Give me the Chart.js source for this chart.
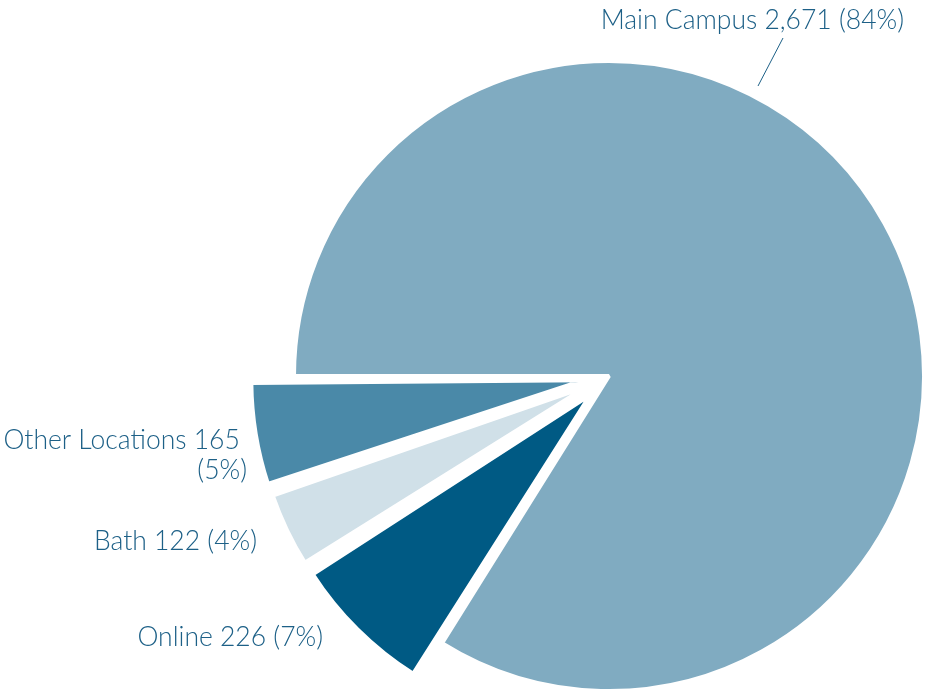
<!DOCTYPE html>
<html>
<head>
<meta charset="utf-8">
<script src="https://cdn.jsdelivr.net/npm/chart.js@4/dist/chart.umd.min.js"></script>
<style>
html,body{margin:0;padding:0;background:#fff;}
#wrap{width:933px;height:692px;position:relative;}
</style>
</head>
<body>
<div id="wrap"><canvas id="c" width="933" height="692"></canvas></div>
<script>
const categories = ["Main Campus", "Online", "Bath", "Other Locations"];
const values = [2671, 226, 122, 165];
const percents = ["84%", "7%", "4%", "5%"];
const colors = ["#80abc1", "#005a84", "#d0e0e8", "#4a89a8"];
const explodePx = [0, 42, 42, 43]; // desired visual shift of each slice

// Chart.js v4 arc translation = offset/4 * (2 - sin(circumference)); invert it
const total = values.reduce((a, b) => a + b, 0);
const offsets = values.map((v, i) => {
  const c = v / total * 2 * Math.PI;
  return explodePx[i] / (0.25 * (2 - Math.sin(Math.min(Math.PI, c))));
});

const fmt = v => v.toLocaleString("en-US");
const labelLines = [
  [categories[0] + " " + fmt(values[0]) + " (" + percents[0] + ")"],
  [categories[1] + " " + fmt(values[1]) + " (" + percents[1] + ")"],
  [categories[2] + " " + fmt(values[2]) + " (" + percents[2] + ")"],
  [categories[3] + " " + fmt(values[3]) + " ", "(" + percents[3] + ")"]
];
// label anchor positions (right edge x, first-line middle y)
const labelPos = [
  {x: 904, y: 20},
  {x: 323, y: 637},
  {x: 257, y: 541},
  {x: 247, y: 440}
];

const labelPlugin = {
  id: "sliceLabels",
  afterDatasetsDraw(chart) {
    const ctx = chart.ctx;
    ctx.save();
    ctx.font = "300 26.5px Lato, 'Open Sans', sans-serif";
    ctx.fillStyle = "#1d6087";
    ctx.textAlign = "right";
    ctx.textBaseline = "middle";
    labelLines.forEach((lines, i) => {
      const p = labelPos[i];
      lines.forEach((t, j) => ctx.fillText(t, p.x, p.y + j * 30));
    });
    // leader line for Main Campus
    ctx.strokeStyle = "#1d6087";
    ctx.lineWidth = 1;
    ctx.beginPath();
    ctx.moveTo(783, 38);
    ctx.lineTo(758, 86);
    ctx.stroke();
    ctx.restore();
  }
};

new Chart(document.getElementById("c"), {
  type: "pie",
  data: {
    labels: categories,
    datasets: [{
      data: values,
      backgroundColor: colors,
      borderColor: "#ffffff",
      borderWidth: 4,
      offset: offsets,
      clip: false
    }]
  },
  options: {
    responsive: false,
    animation: false,
    rotation: -90,
    radius: 315,
    layout: {padding: {left: 285, right: 0, top: 60, bottom: 0}},
    plugins: {legend: {display: false}, tooltip: {enabled: false}}
  },
  plugins: [labelPlugin]
});
</script>
</body>
</html>
